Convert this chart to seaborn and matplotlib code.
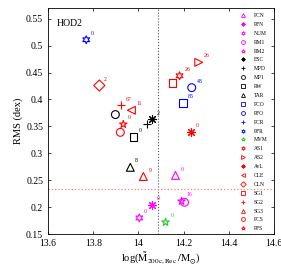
import matplotlib
matplotlib.use('Agg')
import matplotlib.pyplot as plt
from matplotlib.lines import Line2D
from matplotlib.ticker import FuncFormatter, MultipleLocator
import seaborn as sns
import pandas as pd

# codes in the legend (order as in the figure)
legend_names = ['PCN', 'PFN', 'NUM', 'RM1', 'RM2', 'ESC', 'MPD', 'MP1', 'RW', 'TAR',
                'PCO', 'PFO', 'PCR', 'PFR', 'MVM', 'AS1', 'AS2', 'AvL', 'CLE', 'CLN',
                'SG1', 'SG2', 'SG3', 'PCS', 'PFS']

# plotted codes, their mass / rms and the small number printed next to them
point_names = ['PFR', 'CLN', 'SG2', 'CLE', 'MP1', 'PFS', 'PCS', 'RW', 'MPD', 'ESC',
               'TAR', 'SG3', 'PCN', 'AvL', 'SG1', 'AS1', 'AS2', 'PFO', 'PCO', 'PFN',
               'NUM', 'MVM', 'RM1', 'RM2']
log_mass = [13.769, 13.827, 13.924, 13.969, 13.898, 13.933, 13.920, 13.978, 14.040, 14.058,
            13.964, 14.022, 14.164, 14.231, 14.151, 14.182, 14.267, 14.236, 14.196, 14.058,
            14.004, 14.120, 14.204, 14.191]
rms = [0.511, 0.426, 0.389, 0.380, 0.372, 0.354, 0.339, 0.331, 0.354, 0.363,
       0.274, 0.257, 0.259, 0.339, 0.431, 0.444, 0.469, 0.422, 0.394, 0.204,
       0.180, 0.172, 0.209, 0.211]
n_label = ['0', '2', '67', '11', '', '0', '', '0', '', '2',
           '8', '9', '0', '0', '', '26', '26', '48', '85', '0',
           '0', '0', '', '16']

vline_x = 14.085
hline_y = 0.234

df = pd.DataFrame({'name': point_names, 'mass': log_mass, 'rms': rms, 'n': n_label})

# matlab-ish marker styles
hexa = (6, 1, 0)
aster = (8, 2, 0)
M, R, B, K, G = '#ff00ff', '#ff0000', '#0000ff', '#000000', '#22cc22'
style = {
    'PCN': (M, '^'), 'PFN': (M, aster), 'NUM': (M, hexa), 'RM1': (M, 'o'), 'RM2': (M, '*'),
    'ESC': (K, aster), 'MPD': (K, '+'), 'MP1': (K, 'o'), 'RW': (K, 's'), 'TAR': (K, '^'),
    'PCO': (B, 's'), 'PFO': (B, 'o'), 'PCR': (B, '+'), 'PFR': (B, hexa), 'MVM': (G, '*'),
    'AS1': (R, hexa), 'AS2': (R, '>'), 'AvL': (R, aster), 'CLE': (R, '<'), 'CLN': (R, 'D'),
    'SG1': (R, 's'), 'SG2': (R, '+'), 'SG3': (R, '^'), 'PCS': (R, 'o'), 'PFS': (R, '*'),
}
line_markers = ['+', aster]

plt.rcParams['font.family'] = ['Liberation Serif', 'DejaVu Serif']
plt.rcParams['mathtext.fontset'] = 'stix'

fig = plt.figure(figsize=(2.81, 2.66), dpi=100)
ax = fig.add_axes([0.171, 0.120, 0.804, 0.850])

for _, row in df.iterrows():
    c, m = style[row['name']]
    if m in line_markers:
        sns.scatterplot(x=[row['mass']], y=[row['rms']], marker=m, color=c, s=32,
                        linewidth=0.8, ax=ax, zorder=3)
    else:
        sns.scatterplot(x=[row['mass']], y=[row['rms']], marker=m, color=c,
                        facecolor='none', edgecolor=c, s=32, linewidth=0.8, ax=ax, zorder=3)
    if row['n']:
        ax.annotate(row['n'], (row['mass'], row['rms']), xytext=(3.5, 3.5),
                    textcoords='offset points', fontsize=4.2, color=c)

ax.axvline(vline_x, color='#555555', ls=':', lw=0.8)
ax.axhline(hline_y, color='#ff8080', ls=':', lw=0.9)

ax.set_xlim(13.6, 14.6)
ax.set_ylim(0.15, 0.57)
ax.xaxis.set_major_locator(MultipleLocator(0.2))
ax.yaxis.set_major_locator(MultipleLocator(0.05))
fmt = FuncFormatter(lambda v, p: '%g' % round(v, 3))
ax.xaxis.set_major_formatter(fmt)
ax.yaxis.set_major_formatter(fmt)
ax.tick_params(direction='in', top=True, right=True, labelsize=7, length=2.5, width=0.5)
for sp in ax.spines.values():
    sp.set_linewidth(0.6)
ax.set_xlabel(r'log($\tilde{\rm M}_{\rm 200c,Rec}\,/{\rm M}_{\odot}$)', fontsize=7.5, labelpad=2)
ax.set_ylabel('RMS (dex)', fontsize=7.5, labelpad=2)
ax.text(0.04, 0.95, 'HOD2', transform=ax.transAxes, fontsize=7, va='top')

handles = []
for name in legend_names:
    c, m = style[name]
    if m in line_markers:
        h = Line2D([], [], ls='none', marker=m, color=c, markersize=2.8, markeredgewidth=0.6)
    else:
        h = Line2D([], [], ls='none', marker=m, markerfacecolor='none', markeredgecolor=c,
                   markersize=2.8, markeredgewidth=0.6)
    handles.append(h)
ax.legend(handles, legend_names, loc='upper right', bbox_to_anchor=(0.99, 0.995),
          frameon=False, fontsize=4.0, labelspacing=0.7, handlelength=1.0,
          handletextpad=1.5, borderpad=0.2)

fig.savefig('out.png', dpi=100)
